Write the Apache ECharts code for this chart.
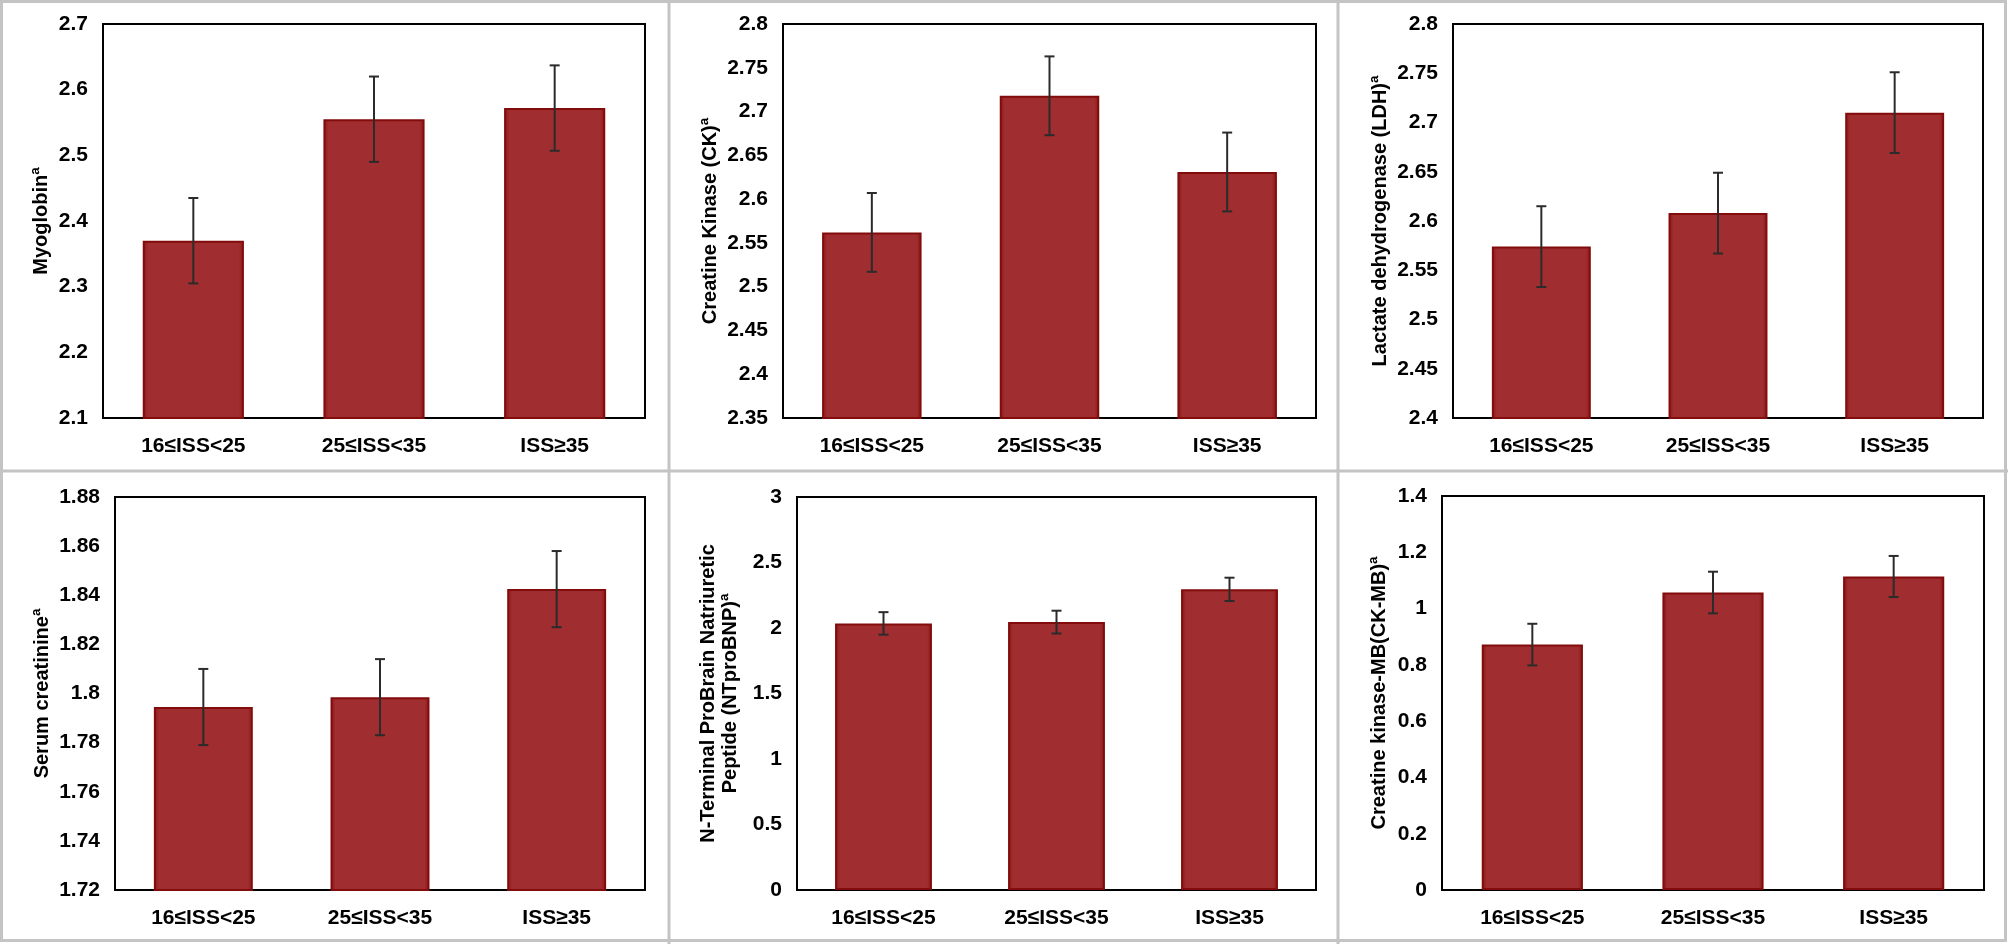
<!DOCTYPE html>
<html>
<head>
<meta charset="utf-8">
<script src="https://cdn.jsdelivr.net/npm/echarts@6/dist/echarts.min.js"></script>
<style>
  html, body { margin: 0; padding: 0; background: #fff; }
  #chart { width: 2008px; height: 944px; }
</style>
</head>
<body>
<div id="chart"></div>
<script>
const categories = ['16≤ISS<25', '25≤ISS<35', 'ISS≥35'];

const myoglobinMean = [2.370, 2.555, 2.572];
const myoglobinErr = [0.065, 0.065, 0.065];
const ckMean = [2.562, 2.718, 2.631];
const ckErr = [0.045, 0.045, 0.045];
const ldhMean = [2.574, 2.608, 2.710];
const ldhErr = [0.041, 0.041, 0.041];
const creatinineMean = [1.7945, 1.7985, 1.8425];
const creatinineErr = [0.0155, 0.0155, 0.0155];
const ntprobnpMean = [2.035, 2.045, 2.295];
const ntprobnpErr = [0.086, 0.087, 0.089];
const ckmbMean = [0.872, 1.057, 1.114];
const ckmbErr = [0.074, 0.074, 0.073];

const axisNames = [
  'Myoglobinª',
  'Creatine Kinase (CK)ª',
  'Lactate dehydrogenase (LDH)ª',
  'Serum creatinineª',
  'N-Terminal ProBrain Natriuretic\nPeptide (NTproBNP)ª',
  'Creatine kinase-MB(CK-MB)ª'
];
const yMin = [2.1, 2.35, 2.4, 1.72, 0, 0];
const yMax = [2.7, 2.8, 2.8, 1.88, 3, 1.4];
const yStep = [0.1, 0.05, 0.05, 0.02, 0.5, 0.2];

const means = [myoglobinMean, ckMean, ldhMean, creatinineMean, ntprobnpMean, ckmbMean];
const errs = [myoglobinErr, ckErr, ldhErr, creatinineErr, ntprobnpErr, ckmbErr];

// plot boxes: [left, top, right, bottom] in px
const boxes = [
  [103, 24, 645, 418],
  [783, 24, 1316, 418],
  [1453, 24, 1983, 418],
  [115, 497, 645, 890],
  [797, 497, 1316, 890],
  [1442, 496, 1984, 890]
];
const nameGaps = [51, 62, 62, 62, 56, 52];

const font = "'Liberation Sans', Arial, sans-serif";
const fmt = (v) => String(Math.round(v * 100) / 100);

const grids = [];
const xAxes = [];
const yAxes = [];
const series = [];

boxes.forEach((b, i) => {
  grids.push({
    left: b[0], top: b[1], width: b[2] - b[0], height: b[3] - b[1],
    show: true, borderColor: '#000', borderWidth: 2, backgroundColor: 'transparent'
  });
  xAxes.push({
    type: 'category', gridIndex: i, data: categories,
    axisLine: { show: true, lineStyle: { color: '#000', width: 2 } },
    axisTick: { show: false },
    axisLabel: { color: '#000', fontSize: 21, fontWeight: 'bold', fontFamily: font, margin: 18 }
  });
  yAxes.push({
    type: 'value', gridIndex: i, min: yMin[i], max: yMax[i], interval: yStep[i],
    name: axisNames[i], nameLocation: 'middle', nameGap: nameGaps[i],
    nameTextStyle: { color: '#000', fontSize: 20, fontWeight: 'bold', fontFamily: font, lineHeight: 22 },
    axisLine: { show: true, lineStyle: { color: '#000', width: 2 } },
    axisTick: { show: false },
    splitLine: { show: false },
    axisLabel: { color: '#000', fontSize: 21, fontWeight: 'bold', fontFamily: font, margin: 15, formatter: fmt }
  });
  series.push({
    type: 'bar', xAxisIndex: i, yAxisIndex: i, data: means[i],
    barWidth: '56%',
    itemStyle: {
      color: {
        type: 'linear', x: 0, y: 0, x2: 1, y2: 0,
        colorStops: [
          { offset: 0, color: '#8c1616' },
          { offset: 0.05, color: '#a02d2f' },
          { offset: 0.95, color: '#a02d2f' },
          { offset: 1, color: '#8c1616' }
        ]
      },
      borderColor: '#820c0c', borderWidth: 2
    },
    silent: true
  });
  series.push({
    type: 'custom', xAxisIndex: i, yAxisIndex: i, z: 5,
    data: means[i].map((m, k) => [k, m - errs[i][k], m + errs[i][k]]),
    renderItem: (params, api) => {
      const lo = api.coord([api.value(0), api.value(1)]);
      const hi = api.coord([api.value(0), api.value(2)]);
      const cap = 5;
      const style = { stroke: '#2b2b2b', lineWidth: 2 };
      return {
        type: 'group',
        children: [
          { type: 'line', shape: { x1: hi[0], y1: hi[1], x2: lo[0], y2: lo[1] }, style },
          { type: 'line', shape: { x1: hi[0] - cap, y1: hi[1], x2: hi[0] + cap, y2: hi[1] }, style },
          { type: 'line', shape: { x1: lo[0] - cap, y1: lo[1], x2: lo[0] + cap, y2: lo[1] }, style }
        ]
      };
    },
    silent: true
  });
});

const divider = { stroke: '#c4c4c4', lineWidth: 3 };
const chart = echarts.init(document.getElementById('chart'));
chart.setOption({
  animation: false,
  backgroundColor: '#fff',
  grid: grids,
  xAxis: xAxes,
  yAxis: yAxes,
  series: series,
  graphic: [
    { type: 'rect', shape: { x: 1.5, y: 1.5, width: 2004, height: 939 }, style: { fill: 'none', stroke: '#c4c4c4', lineWidth: 3 } },
    { type: 'line', shape: { x1: 669, y1: 0, x2: 669, y2: 944 }, style: divider },
    { type: 'line', shape: { x1: 1338, y1: 0, x2: 1338, y2: 944 }, style: divider },
    { type: 'line', shape: { x1: 0, y1: 471, x2: 2008, y2: 471 }, style: divider }
  ]
});
</script>
</body>
</html>
